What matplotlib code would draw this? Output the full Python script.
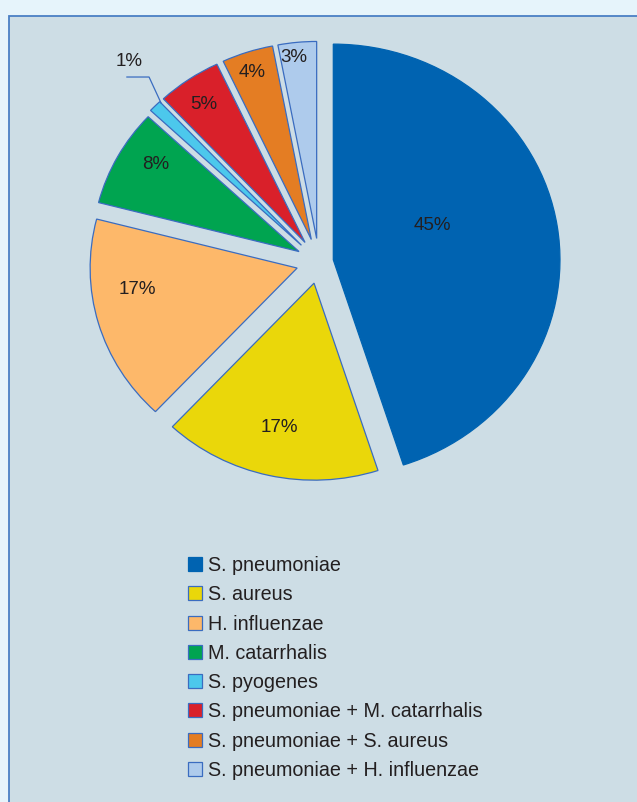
import matplotlib
matplotlib.use("Agg")
import matplotlib.pyplot as plt
from matplotlib.patches import Rectangle

plt.rcParams["font.family"] = ["Liberation Sans", "DejaVu Sans"]

# Data
organisms = [
    "S. pneumoniae",
    "S. aureus",
    "H. influenzae",
    "M. catarrhalis",
    "S. pyogenes",
    "S. pneumoniae + M. catarrhalis",
    "S. pneumoniae + S. aureus",
    "S. pneumoniae + H. influenzae",
]
shares = [45, 17, 17, 8, 1, 5, 4, 3]
colors = ["#0063b1", "#ead70a", "#fdb86a", "#00a450",
          "#4cc8ec", "#d9202a", "#e47d23", "#aecbec"]

# Layout
explode = [0.07, 0.11, 0.11, 0.11, 0.12, 0.12, 0.12, 0.12]
label_xy = [(0.546, 0.183), (-0.193, -0.838), (-0.879, -0.142),
            (-0.787, 0.497), (-0.918, 1.020), (-0.556, 0.802),
            (-0.324, 0.964), (-0.121, 1.036)]
W, H = 637, 802
cx, cy = 319, 262          # pie centre in pixels from top-left
sx, sy = 207, 197          # pixels per data unit

fig = plt.figure(figsize=(W / 100, H / 100), dpi=100)
fig.patch.set_facecolor("#e6f4fb")

# inner panel with blue frame, in its own background axes
bg = fig.add_axes([0, 0, 1, 1], zorder=-5)
bg.set_xlim(0, W)
bg.set_ylim(H, 0)
bg.axis("off")
bg.add_patch(Rectangle((9, 16), W + 20, H + 20, facecolor="#cddde5",
                       edgecolor="#4a7fc4", linewidth=1.3))

xl, yl = 1.45, 1.3
ax = fig.add_axes([(cx - xl * sx) / W, (H - cy - yl * sy) / H,
                   2 * xl * sx / W, 2 * yl * sy / H], zorder=2)
ax.set_facecolor("none")

wedges, _ = ax.pie(shares, colors=colors, startangle=90, counterclock=False,
                   explode=explode, radius=1.0,
                   wedgeprops=dict(edgecolor="#3a6cc0", linewidth=0.9))
wedges[0].set_radius(1.095)
wedges[0].set_edgecolor(colors[0])

ax.set_aspect("auto")
ax.set_xlim(-xl, xl)
ax.set_ylim(-yl, yl)
ax.axis("off")

for val, (x, y) in zip(shares, label_xy):
    ax.text(x, y, f"{val}%", ha="center", va="center", fontsize=13.5,
            color="#231f20")

# leader line for the smallest slice
ax.plot([-0.928, -0.821, -0.763], [0.939, 0.939, 0.807],
        color="#3a6cc0", linewidth=0.9)

fs = 14.2
leg = fig.legend(wedges, organisms, loc="upper left",
                 bbox_to_anchor=(188 / W, (H - 556) / H),
                 bbox_transform=fig.transFigure, frameon=False, fontsize=fs,
                 borderpad=0, borderaxespad=0, handlelength=0.7,
                 handleheight=0.7, handletextpad=0.32, labelspacing=0.52,
                 labelcolor="#231f20")
leg.set_zorder(3)

fig.savefig("out.png", dpi=100, facecolor=fig.get_facecolor())
